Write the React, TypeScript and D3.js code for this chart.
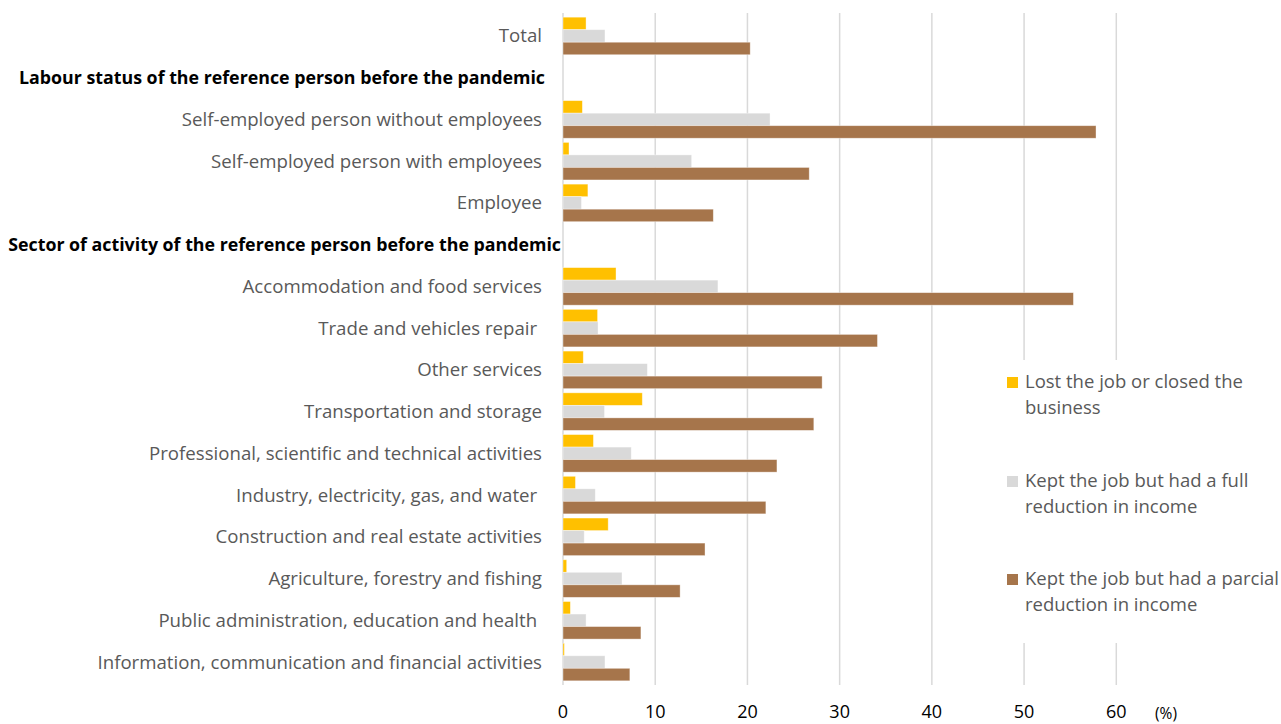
import React from "react";
import * as d3 from "d3";

const categories = [
  "Total",
  "Labour status of the reference person before the pandemic",
  "Self-employed person without employees",
  "Self-employed person with employees",
  "Employee",
  "Sector of activity of the reference person before the pandemic",
  "Accommodation and food services",
  "Trade and vehicles repair ",
  "Other services",
  "Transportation and storage",
  "Professional, scientific and technical activities",
  "Industry, electricity, gas, and water ",
  "Construction and real estate activities",
  "Agriculture, forestry and fishing",
  "Public administration, education and health ",
  "Information, communication and financial activities",
];
const headers = [
  "Labour status of the reference person before the pandemic",
  "Sector of activity of the reference person before the pandemic",
];

const lostJob = [2.5, null, 2.1, 0.65, 2.7, null, 5.75, 3.75, 2.2, 8.6, 3.3, 1.35, 4.9, 0.4, 0.8, 0.15];
const fullReduction = [4.55, null, 22.45, 13.95, 2.0, null, 16.8, 3.8, 9.15, 4.5, 7.4, 3.5, 2.3, 6.4, 2.5, 4.55];
const partialReduction = [20.3, null, 57.8, 26.7, 16.3, null, 55.35, 34.1, 28.1, 27.2, 23.2, 22.0, 15.4, 12.7, 8.45, 7.25];

const seriesNames = [
  ["Lost the job or closed the", "business"],
  ["Kept the job but had a full", "reduction in income"],
  ["Kept the job but had a parcial", "reduction in income"],
];
const seriesColors = ["#FFC000", "#D9D9D9", "#A6754B"];
const xTicks = [0, 10, 20, 30, 40, 50, 60];

const FONT = "'Open Sans', sans-serif";

export default function App() {
  const W = 1281;
  const H = 724;
  const x = d3.scaleLinear().domain([0, 60]).range([563, 1116.3]);
  const y = d3.scaleBand<string>().domain(categories).range([13, 685]).paddingInner(0.1).paddingOuter(0.1);
  const allSeries = [lostJob, fullReduction, partialReduction];
  const ys = d3.scaleBand<number>().domain([0, 1, 2]).range([0, y.bandwidth()]);

  const legendY = [382, 481, 579];

  return (
    <svg width={W} height={H} style={{ position: "absolute", left: 0, top: 0, background: "#fff" }}>
      <rect x={0} y={0} width={W} height={H} fill="#fff" />
      {xTicks.map((t) => (
        <line key={t} x1={x(t)} x2={x(t)} y1={13} y2={685} stroke="#D9D9D9" strokeWidth={1.5} />
      ))}
      {categories.map((c, i) =>
        allSeries.map((s, k) => {
          const v = s[i];
          if (v == null) return null;
          return (
            <rect
              key={c + k}
              x={x(0)}
              y={(y(c) as number) + (ys(k) as number)}
              width={x(v) - x(0)}
              height={ys.bandwidth()}
              fill={seriesColors[k]}
              stroke="#fff"
              strokeOpacity={0.5}
              strokeWidth={0.75}
            />
          );
        })
      )}
      {categories.map((c) => {
        const isHeader = headers.includes(c);
        const cy = (y(c) as number) + y.bandwidth() / 2;
        const longHeader = c === headers[1];
        return (
          <text
            key={c}
            x={longHeader ? 561 : isHeader ? 545 : 542}
            y={cy}
            dy="0.35em"
            textAnchor="end"
            fontFamily={FONT}
            fontSize={isHeader ? 17.8 : 18.65}
            fontWeight={isHeader ? 700 : 400}
            fill={isHeader ? "#000" : "#595959"}
            style={{ whiteSpace: "pre" }}
          >
            {c}
          </text>
        );
      })}
      {xTicks.map((t) => (
        <text key={t} x={x(t)} y={712} dy="0.35em" textAnchor="middle" fontFamily={FONT} fontSize={18} fill="#000">
          {t}
        </text>
      ))}
      <text x={1166} y={714} dy="0.35em" textAnchor="middle" fontFamily={FONT} fontSize={15.5} fill="#000">
        (%)
      </text>
      <rect x={1000} y={360} width={281} height={283} fill="#fff" />
      {seriesNames.map((lines, k) => (
        <g key={k}>
          <rect x={1007} y={legendY[k] - 5} width={11} height={11} fill={seriesColors[k]} />
          {lines.map((ln, j) => (
            <text
              key={j}
              x={1025}
              y={legendY[k] + j * 26}
              dy="0.35em"
              fontFamily={FONT}
              fontSize={18.5}
              fill="#595959"
            >
              {ln}
            </text>
          ))}
        </g>
      ))}
    </svg>
  );
}
